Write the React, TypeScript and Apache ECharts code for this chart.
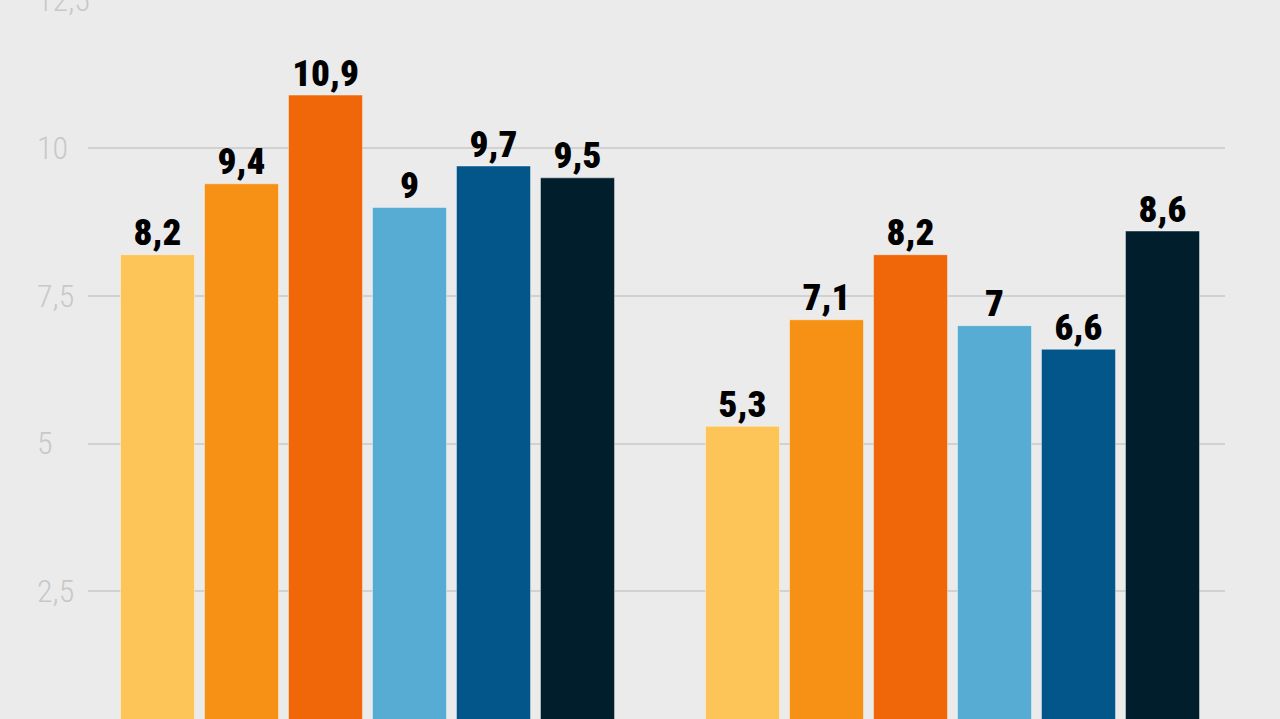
import React, { useEffect, useRef } from "react";
import * as echarts from "echarts";

const categories = ["Gruppo 1", "Gruppo 2"];
const seriesNames = ["Serie 1", "Serie 2", "Serie 3", "Serie 4", "Serie 5", "Serie 6"];
const seriesValues = [
  [8.2, 5.3],
  [9.4, 7.1],
  [10.9, 8.2],
  [9.0, 7.0],
  [9.7, 6.6],
  [9.5, 8.6],
];
const seriesColors = ["#fdc457", "#f79116", "#f0670a", "#56acd3", "#03568a", "#011e2c"];
const yMin = 0;
const yMax = 12.5;
const yStep = 2.5;

const fmt = (v: number) => String(v).replace(".", ",");

export default function App() {
  const ref = useRef<HTMLDivElement>(null);
  useEffect(() => {
    if (!ref.current) return;
    const chart = echarts.init(ref.current, null, { renderer: "svg" });
    const gridTop = 41;
    const gridBottom = 20;
    const lineColors = ["#c9c9c9", "#c9c9c9", "#c9c9c9", "#c9c9c9", "#c9c9c9", "rgba(0,0,0,0)"];
    chart.setOption({
      animation: false,
      backgroundColor: "#ebebeb",
      grid: [
        { left: 75, right: 35, top: gridTop, bottom: gridBottom },
        { left: 88, right: 55, top: gridTop, bottom: gridBottom },
      ],
      xAxis: [
        {
          type: "category",
          gridIndex: 0,
          data: categories,
          axisLine: { show: false },
          axisTick: { show: false },
          axisLabel: { show: false },
        },
        { type: "value", gridIndex: 1, min: 0, max: 1, show: false },
      ],
      yAxis: [
        {
          type: "value",
          gridIndex: 0,
          min: yMin,
          max: yMax,
          interval: yStep,
          show: false,
          splitLine: { show: false },
        },
        {
          type: "value",
          gridIndex: 1,
          min: yMin,
          max: yMax,
          interval: yStep,
          axisLine: { show: false },
          axisTick: { show: false },
          splitLine: { show: true, lineStyle: { color: lineColors, width: 1.5 } },
          axisLabel: {
            show: true,
            align: "left",
            margin: 51,
            color: "#c8c8c8",
            fontSize: 32,
            fontWeight: 300,
            fontFamily: "'Roboto Condensed', 'DejaVu Sans Condensed', sans-serif",
            formatter: (v: number) => (v === 0 ? "" : fmt(v)),
          },
        },
      ],
      series: seriesNames.map((name, i) => ({
        name,
        type: "bar",
        xAxisIndex: 0,
        yAxisIndex: 0,
        data: seriesValues[i],
        barWidth: 75,
        barGap: "12%",
        itemStyle: {
          color: seriesColors[i],
          borderColor: "rgba(255,255,255,0.4)",
          borderWidth: 1,
        },
        label: {
          show: true,
          position: "top",
          distance: 3,
          color: "#000000",
          fontSize: 37,
          fontWeight: 900,
          fontFamily: "'Roboto Condensed', 'DejaVu Sans Condensed', sans-serif",
          formatter: (p: any) => fmt(p.value),
        },
      })),
    });
    return () => chart.dispose();
  }, []);
  return (
    <div
      style={{
        position: "fixed",
        left: 0,
        top: 0,
        width: 1280,
        height: 719,
        overflow: "hidden",
        background: "#ebebeb",
      }}
    >
      <div
        ref={ref}
        style={{ position: "absolute", left: 0, top: -41, width: 1280, height: 800 }}
      />
    </div>
  );
}
